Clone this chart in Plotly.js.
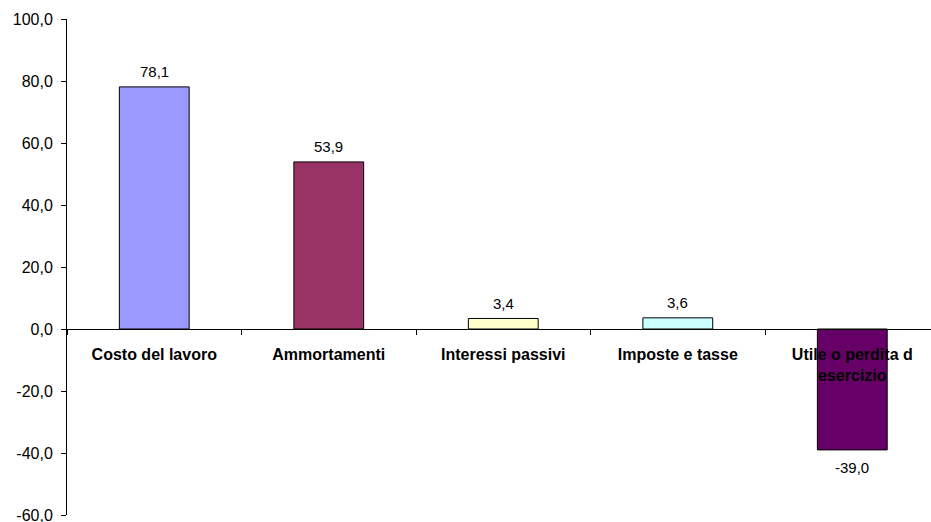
<!DOCTYPE html>
<html>
<head>
<meta charset="utf-8">
<script src="https://cdn.plot.ly/plotly-3.0.1.min.js"></script>
<style>html,body{margin:0;padding:0;background:#fff;}#chart{width:931px;height:522px;}</style>
</head>
<body>
<div id="chart"></div>
<script>
const categories = ["Costo del lavoro", "Ammortamenti", "Interessi passivi", "Imposte e tasse", "Utile o perdita d<br>esercizio"];
const values = [78.1, 53.9, 3.4, 3.6, -39.0];
const barColors = ["#9999FF", "#993366", "#FFFFCC", "#CCFFFF", "#660066"];
const yTicks = [-60, -40, -20, 0, 20, 40, 60, 80, 100];

const fmt = v => v.toFixed(1).replace('.', ',');
const xIdx = categories.map((c, i) => i);

const trace = {
  type: 'bar',
  x: xIdx,
  y: values,
  width: 0.4,
  marker: {color: barColors, line: {color: '#000', width: 1}},
  hoverinfo: 'none'
};

const annotations = values.map((v, i) => ({
  x: i, y: v, xref: 'x', yref: 'y',
  text: fmt(v), showarrow: false,
  yanchor: 'middle', xanchor: 'center',
  yshift: v >= 0 ? 15 : -18,
  font: {family: 'Liberation Sans, Arial, sans-serif', size: 15, color: '#000'}
}));

const layout = {
  width: 931, height: 522,
  margin: {l: 67, r: 0, t: 19, b: 7, pad: 0},
  paper_bgcolor: '#fff', plot_bgcolor: '#fff',
  separators: ',.',
  showlegend: false,
  font: {family: 'Liberation Sans, Arial, sans-serif', color: '#000'},
  xaxis: {
    type: 'linear',
    range: [-0.5, 4.451],
    tickmode: 'array',
    tickvals: xIdx,
    ticktext: categories,
    anchor: 'free', position: 0.375,
    showline: true, linecolor: '#000', linewidth: 1,
    ticks: '', showgrid: false, zeroline: false,
    ticklabelstandoff: 11,
    tickfont: {family: 'Liberation Sans, Arial, sans-serif', size: 16, color: '#000', weight: 'bold'},
    tickangle: 0
  },
  xaxis2: {
    overlaying: 'x', matching: 'x', range: [-0.5, 4.451],
    tickmode: 'array', tickvals: [-0.5, 0.5, 1.5, 2.5, 3.5],
    ticks: 'outside', ticklen: 5, tickcolor: '#000', tickwidth: 1,
    showticklabels: false, showline: false, showgrid: false, zeroline: false,
    anchor: 'free', position: 0.375
  },
  yaxis: {
    range: [-60, 100],
    tickmode: 'array', tickvals: yTicks,
    ticktext: yTicks.map(fmt),
    showline: true, linecolor: '#000', linewidth: 1,
    ticks: 'outside', ticklen: 5, tickcolor: '#000',
    showgrid: false, zeroline: false,
    ticklabelstandoff: 5,
    ticklabeloverflow: 'allow',
    tickfont: {family: 'Liberation Sans, Arial, sans-serif', size: 16, color: '#000'}
  },
  annotations: annotations
};

const tickTrace = {type: 'scatter', x: [], y: [], xaxis: 'x2', yaxis: 'y', hoverinfo: 'none'};

Plotly.newPlot('chart', [trace, tickTrace], layout, {displayModeBar: false, staticPlot: true});
</script>
</body>
</html>
